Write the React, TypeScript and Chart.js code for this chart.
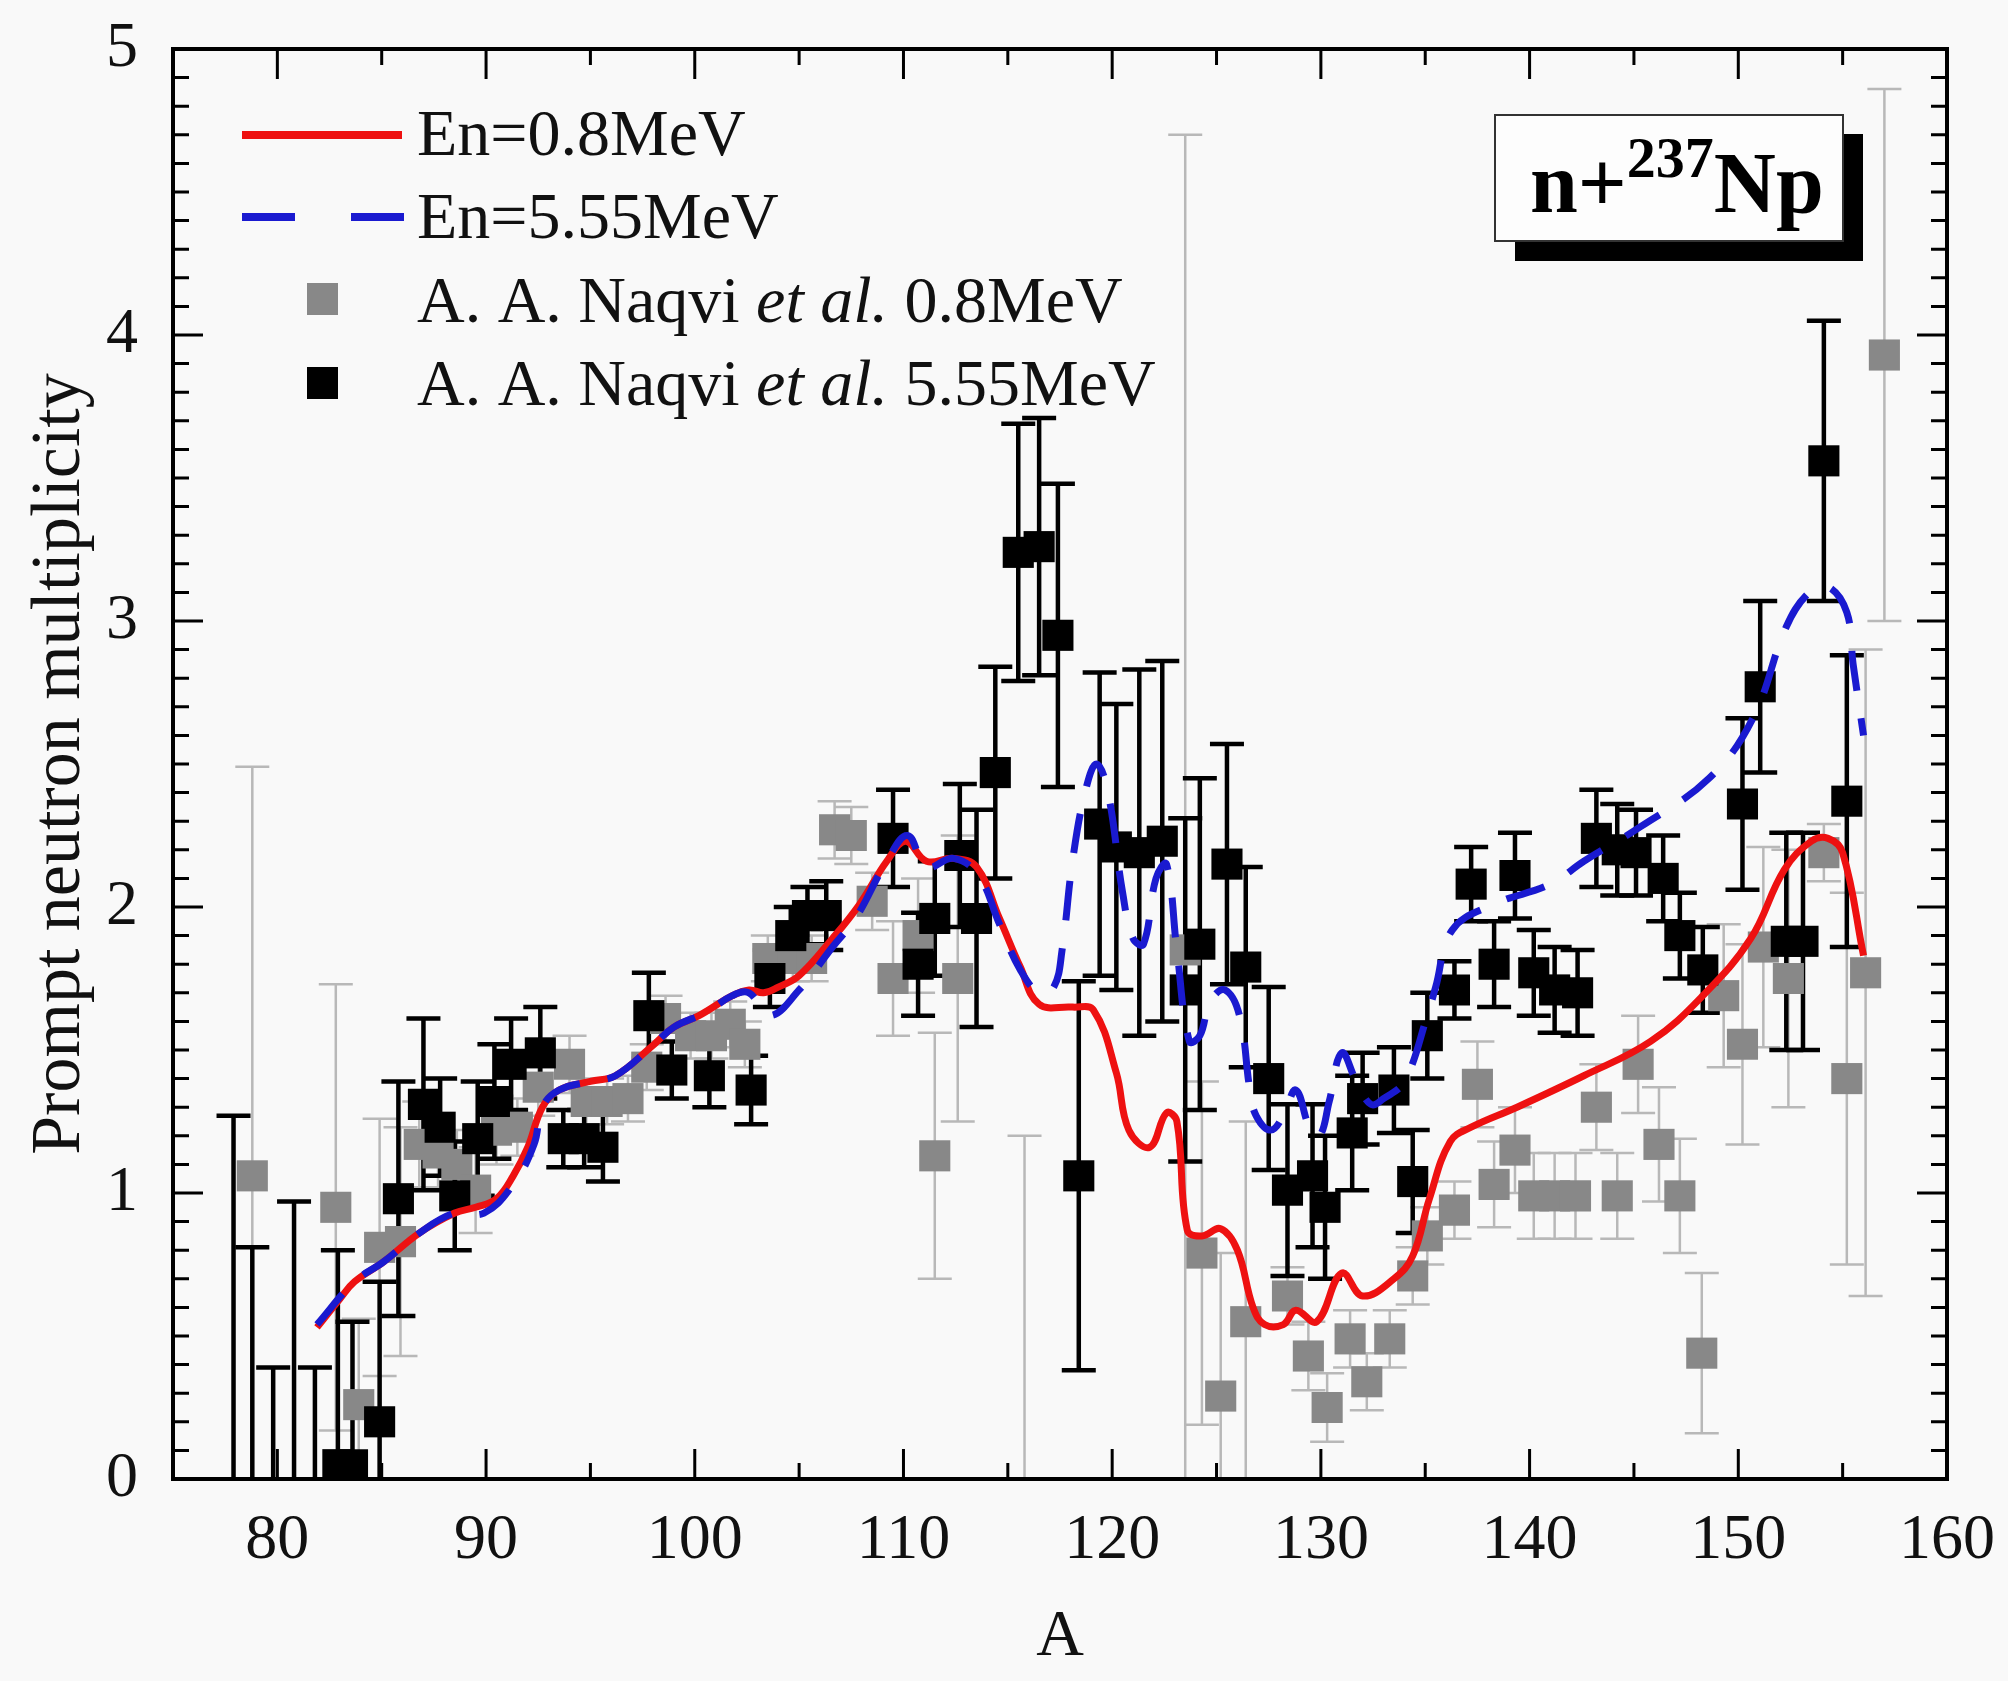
import React, { useEffect, useRef } from 'react';
import { Chart, registerables } from 'chart.js';

Chart.register(...registerables);

const SERIF = "'Liberation Serif', 'Times New Roman', serif";

// axis ticks
const xTickValues = [80, 90, 100, 110, 120, 130, 140, 150, 160];
const yTickValues = [0, 1, 2, 3, 4, 5];

// calculated curve, En = 0.8 MeV
const curve08A = [81.9, 83, 83.7, 85.1, 86.8, 88.5, 89.5, 90.5, 91.3, 92, 92.7, 93.5, 95, 96.2, 97.9, 99, 100.2, 101.8, 102.6, 103.3, 104, 105, 106.6, 107.9, 109.2, 110.1, 111.1, 112.4, 113.5, 114.6, 115.6, 116.5, 118.1, 119.1, 120.2, 120.8, 121.8, 122.6, 123.1, 123.6, 124.3, 125.2, 126, 126.75, 127.3, 128.2, 128.8, 129.8, 131, 132, 133.5, 134.4, 135.2, 136.2, 137.2, 139.4, 142.6, 145.8, 148.3, 150.6, 152.2, 153.5, 154.3, 155, 156];
const curve08V = [0.53, 0.63, 0.69, 0.76, 0.86, 0.93, 0.95, 0.98, 1.06, 1.16, 1.3, 1.36, 1.39, 1.41, 1.51, 1.58, 1.62, 1.69, 1.71, 1.7, 1.72, 1.76, 1.89, 2.01, 2.16, 2.23, 2.16, 2.17, 2.14, 1.96, 1.79, 1.66, 1.65, 1.64, 1.42, 1.22, 1.16, 1.28, 1.25, 0.87, 0.85, 0.875, 0.8, 0.6, 0.54, 0.54, 0.59, 0.55, 0.72, 0.64, 0.7, 0.78, 0.98, 1.18, 1.23, 1.3, 1.41, 1.53, 1.69, 1.89, 2.13, 2.23, 2.24, 2.19, 1.83];

// calculated curve, En = 5.55 MeV
const curve555A = [81.9, 83.7, 85.1, 86.8, 88.5, 89.9, 91.3, 92.3, 92.7, 93.5, 95, 96.2, 97.9, 99, 100.5, 101.8, 102.6, 103.6, 105, 106.6, 107.7, 109.2, 110.2, 111.1, 112.4, 113.6, 114.6, 115.6, 116.5, 117.2, 117.6, 118.1, 118.7, 119.25, 119.8, 120.5, 121, 121.5, 122.1, 122.6, 123.1, 123.7, 124.2, 124.7, 125.4, 126.1, 126.6, 126.9, 127.6, 128.2, 128.8, 129.5, 129.95, 130.4, 131, 131.7, 132.4, 133, 134, 135.1, 135.5, 136.3, 138.3, 141, 142.6, 145.3, 148.6, 150.7, 152.3, 153.4, 154.3, 155.2, 155.5, 156];
const curve555V = [0.54, 0.69, 0.76, 0.86, 0.93, 0.93, 1.03, 1.17, 1.3, 1.36, 1.39, 1.41, 1.51, 1.58, 1.63, 1.69, 1.7, 1.62, 1.71, 1.86, 1.96, 2.16, 2.25, 2.14, 2.17, 2.11, 1.94, 1.78, 1.7, 1.72, 1.85, 2.16, 2.4, 2.5, 2.4, 2.05, 1.89, 1.87, 2.1, 2.15, 1.85, 1.53, 1.55, 1.67, 1.71, 1.62, 1.36, 1.27, 1.22, 1.27, 1.36, 1.22, 1.2, 1.32, 1.49, 1.39, 1.31, 1.33, 1.39, 1.62, 1.72, 1.92, 2.01, 2.08, 2.16, 2.28, 2.45, 2.66, 2.98, 3.1, 3.12, 3.03, 2.85, 2.6];

// A. A. Naqvi et al., 0.8 MeV
const naqvi08A = [78.8, 82.8, 83.9, 84.9, 85.9, 86.8, 87.7, 88.6, 89.5, 90.5, 91.5, 92.5, 94, 94.8, 95.8, 96.8, 97.7, 98.6, 99.8, 100.8, 101.7, 102.4, 103.5, 104.7, 105.6, 106.7, 107.5, 108.5, 109.5, 110.7, 111.5, 112.6, 115.8, 123.5, 124.3, 125.2, 126.4, 128.4, 129.4, 130.3, 131.4, 132.2, 133.3, 134.4, 135.1, 136.4, 137.5, 138.3, 139.3, 140.2, 141.2, 142.2, 143.2, 144.2, 145.2, 146.2, 147.2, 148.25, 149.3, 150.2, 151.2, 152.4, 154.1, 155.2, 156.1, 157];
const naqvi08V = [1.06, 0.95, 0.26, 0.81, 0.83, 1.17, 1.14, 1.1, 1.01, 1.22, 1.23, 1.37, 1.45, 1.32, 1.32, 1.33, 1.44, 1.61, 1.55, 1.55, 1.59, 1.52, 1.82, 1.82, 1.82, 2.27, 2.25, 2.02, 1.75, 1.9, 1.13, 1.75, -0.1, 1.85, 0.79, 0.29, 0.55, 0.64, 0.43, 0.25, 0.49, 0.34, 0.49, 0.71, 0.85, 0.94, 1.38, 1.03, 1.15, 0.99, 0.99, 0.99, 1.3, 0.99, 1.45, 1.17, 0.99, 0.44, 1.69, 1.52, 1.86, 1.75, 2.19, 1.4, 1.77, 3.93];
const naqvi08Err = [1.43, 0.78, 0.3, 0.45, 0.4, 0.15, 0.12, 0.12, 0.15, 0.12, 0.1, 0.1, 0.1, 0.08, 0.08, 0.08, 0.08, 0.08, 0.08, 0.08, 0.08, 0.08, 0.08, 0.08, 0.08, 0.1, 0.1, 0.1, 0.2, 0.2, 0.43, 0.5, 1.3, 2.85, 0.6, 0.5, 0.7, 0.1, 0.12, 0.12, 0.1, 0.1, 0.1, 0.1, 0.1, 0.1, 0.15, 0.15, 0.15, 0.15, 0.15, 0.15, 0.15, 0.15, 0.17, 0.2, 0.2, 0.28, 0.25, 0.35, 0.35, 0.45, 0.1, 0.65, 1.13, 0.93];

// A. A. Naqvi et al., 5.55 MeV
const naqvi555A = [77.9, 78.8, 79.8, 80.8, 81.8, 82.9, 83.6, 84.9, 85.8, 87, 87.8, 88.5, 89.6, 90.4, 91.2, 92.6, 93.7, 94.7, 95.6, 97.8, 98.9, 100.7, 102.7, 103.6, 104.6, 105.4, 106.3, 109.5, 110.7, 111.5, 112.7, 113.5, 114.4, 115.5, 116.5, 117.4, 118.4, 119.4, 120.2, 121.3, 122.4, 123.5, 124.2, 125.5, 126.4, 127.5, 128.4, 129.6, 130.2, 131.5, 132, 133.5, 134.4, 135.1, 136.4, 137.2, 138.3, 139.3, 140.2, 141.2, 142.3, 143.2, 144.2, 145.1, 146.4, 147.2, 148.3, 150.2, 151.05, 152.3, 153.1, 154.1, 155.2];
const naqvi555V = [-0.2, -0.2, -0.2, -0.2, -0.2, 0.05, 0.05, 0.2, 0.98, 1.31, 1.23, 0.99, 1.19, 1.32, 1.45, 1.49, 1.19, 1.19, 1.16, 1.62, 1.43, 1.41, 1.36, 1.75, 1.9, 1.97, 1.97, 2.24, 1.8, 1.96, 2.18, 1.96, 2.47, 3.24, 3.26, 2.95, 1.06, 2.29, 2.21, 2.19, 2.23, 1.71, 1.87, 2.15, 1.79, 1.4, 1.01, 1.06, 0.95, 1.21, 1.33, 1.36, 1.04, 1.55, 1.71, 2.08, 1.8, 2.11, 1.77, 1.71, 1.7, 2.24, 2.2, 2.19, 2.1, 1.9, 1.78, 2.36, 2.77, 1.88, 1.88, 3.56, 2.37];
const naqvi555Err = [1.47, 1.01, 0.59, 1.17, 0.59, 0.75, 0.5, 0.49, 0.41, 0.3, 0.17, 0.19, 0.2, 0.2, 0.16, 0.16, 0.1, 0.1, 0.12, 0.15, 0.1, 0.11, 0.12, 0.1, 0.1, 0.1, 0.12, 0.17, 0.18, 0.2, 0.25, 0.38, 0.37, 0.45, 0.45, 0.53, 0.68, 0.53, 0.5, 0.64, 0.63, 0.6, 0.58, 0.42, 0.35, 0.32, 0.3, 0.25, 0.25, 0.2, 0.16, 0.15, 0.18, 0.15, 0.1, 0.13, 0.15, 0.15, 0.15, 0.15, 0.15, 0.17, 0.16, 0.15, 0.15, 0.15, 0.15, 0.3, 0.3, 0.38, 0.38, 0.49, 0.51];

const curveLabels = ['En=0.8MeV', 'En=5.55MeV'];
const dataAuthor = 'A. A. Naqvi';
const dataEtAl = 'et al.';
const dataEnergies = ['0.8MeV', '5.55MeV'];

const RED = '#ee1111';
const BLUE = '#1a1ad0';
const GRAY = '#888888';

const toPoints = (xs: number[], ys: number[]) => xs.map((a, i) => ({ x: a, y: ys[i] }));

const backgroundPlugin = {
    id: 'bg',
    beforeDraw(chart: any) {
        const { ctx, width, height } = chart;
        ctx.save();
        ctx.fillStyle = '#f9f9f9';
        ctx.fillRect(0, 0, width, height);
        ctx.restore();
    }
};

// vertical error bars, drawn under the markers
const errorBarPlugin = {
    id: 'errorBars',
    beforeDatasetsDraw(chart: any) {
        const { ctx, chartArea, scales } = chart;
        const x = scales.x;
        const y = scales.y;
        ctx.save();
        ctx.beginPath();
        ctx.rect(chartArea.left, chartArea.top, chartArea.right - chartArea.left, chartArea.bottom - chartArea.top);
        ctx.clip();
        const drawSet = (xs: number[], vs: number[], es: number[], color: string, lw: number, cap: number) => {
            ctx.strokeStyle = color;
            ctx.lineWidth = lw;
            xs.forEach((a, i) => {
                const px = x.getPixelForValue(a);
                const top = y.getPixelForValue(vs[i] + es[i]);
                const bot = y.getPixelForValue(vs[i] - es[i]);
                ctx.beginPath();
                ctx.moveTo(px, top);
                ctx.lineTo(px, bot);
                ctx.moveTo(px - cap, top);
                ctx.lineTo(px + cap, top);
                ctx.moveTo(px - cap, bot);
                ctx.lineTo(px + cap, bot);
                ctx.stroke();
            });
        };
        drawSet(naqvi08A, naqvi08V, naqvi08Err, '#b8b8b8', 2.5, 17);
        drawSet(naqvi555A, naqvi555V, naqvi555Err, '#000000', 4.5, 17);
        ctx.restore();
    }
};

// frame with inward ticks on all four sides
const framePlugin = {
    id: 'frame',
    afterDatasetsDraw(chart: any) {
        const { ctx, chartArea, scales } = chart;
        const { left, right, top, bottom } = chartArea;
        const x = scales.x;
        const y = scales.y;
        ctx.save();
        ctx.strokeStyle = '#000';
        ctx.lineWidth = 3;
        for (let a = 80; a <= 160; a += 5) {
            const px = x.getPixelForValue(a);
            const len = a % 10 === 0 ? 30 : 16;
            ctx.beginPath();
            ctx.moveTo(px, bottom);
            ctx.lineTo(px, bottom - len);
            ctx.moveTo(px, top);
            ctx.lineTo(px, top + len);
            ctx.stroke();
        }
        for (let k = 0; k <= 50; k++) {
            const py = y.getPixelForValue(k / 10);
            const len = k % 10 === 0 ? 30 : 16;
            ctx.beginPath();
            ctx.moveTo(left, py);
            ctx.lineTo(left + len, py);
            ctx.moveTo(right, py);
            ctx.lineTo(right - len, py);
            ctx.stroke();
        }
        ctx.lineWidth = 4;
        ctx.strokeRect(left, top, right - left, bottom - top);
        ctx.restore();
    }
};

// legend and the reaction label
const annotationPlugin = {
    id: 'annotations',
    afterDraw(chart: any) {
        const { ctx } = chart;
        ctx.save();
        ctx.textBaseline = 'alphabetic';
        ctx.textAlign = 'left';
        ctx.fillStyle = '#111';
        const normal = `66px ${SERIF}`;
        const italic = `italic 66px ${SERIF}`;

        // curve samples
        ctx.lineCap = 'butt';
        ctx.lineWidth = 8;
        ctx.strokeStyle = RED;
        ctx.beginPath();
        ctx.moveTo(242, 135);
        ctx.lineTo(402, 135);
        ctx.stroke();
        ctx.strokeStyle = BLUE;
        ctx.setLineDash([53, 56]);
        ctx.beginPath();
        ctx.moveTo(242, 217);
        ctx.lineTo(404, 217);
        ctx.stroke();
        ctx.setLineDash([]);

        ctx.font = normal;
        ctx.fillText(curveLabels[0], 417, 155);
        ctx.fillText(curveLabels[1], 417, 238);

        // data samples
        const rows = [
            { color: GRAY, cy: 299, base: 322, energy: dataEnergies[0] },
            { color: '#000', cy: 383, base: 405, energy: dataEnergies[1] }
        ];
        rows.forEach((r) => {
            ctx.fillStyle = r.color;
            ctx.fillRect(307, r.cy - 16, 31, 32);
            ctx.fillStyle = '#111';
            let cx = 417;
            ctx.font = normal;
            ctx.fillText(dataAuthor + ' ', cx, r.base);
            cx += ctx.measureText(dataAuthor + ' ').width;
            ctx.font = italic;
            ctx.fillText(dataEtAl, cx, r.base);
            cx += ctx.measureText(dataEtAl).width;
            ctx.font = normal;
            ctx.fillText(' ' + r.energy, cx, r.base);
        });

        // boxed reaction label with shadow
        ctx.fillStyle = '#000';
        ctx.fillRect(1515, 134, 348, 127);
        ctx.fillStyle = '#fdfdfd';
        ctx.fillRect(1495, 115, 348, 126);
        ctx.strokeStyle = '#333';
        ctx.lineWidth = 2;
        ctx.strokeRect(1495, 115, 348, 126);
        ctx.fillStyle = '#000';
        let lx = 1530;
        ctx.font = `bold 86px ${SERIF}`;
        ctx.fillText('n+', lx, 212);
        lx += ctx.measureText('n+').width;
        ctx.font = `bold 58px ${SERIF}`;
        ctx.fillText('237', lx, 177);
        lx += ctx.measureText('237').width;
        ctx.font = `bold 86px ${SERIF}`;
        ctx.fillText('Np', lx, 212);
        ctx.restore();
    }
};

const App: React.FC = () => {
    const canvasRef = useRef<HTMLCanvasElement>(null);
    const chartRef = useRef<Chart | null>(null);

    useEffect(() => {
        document.body.style.margin = '0';
        document.body.style.background = '#f9f9f9';
        if (!canvasRef.current) return;
        if (chartRef.current) chartRef.current.destroy();

        chartRef.current = new Chart(canvasRef.current, {
            type: 'scatter',
            data: {
                datasets: [
                    {
                        type: 'line',
                        label: curveLabels[1],
                        data: toPoints(curve555A, curve555V),
                        borderColor: BLUE,
                        borderWidth: 7,
                        borderDash: [40, 28],
                        pointRadius: 0,
                        tension: 0.4,
                        fill: false,
                        order: 0
                    },
                    {
                        type: 'line',
                        label: curveLabels[0],
                        data: toPoints(curve08A, curve08V),
                        borderColor: RED,
                        borderWidth: 7,
                        pointRadius: 0,
                        tension: 0.4,
                        fill: false,
                        order: 1
                    },
                    {
                        label: 'Naqvi 5.55MeV',
                        data: toPoints(naqvi555A, naqvi555V),
                        pointStyle: 'rect',
                        pointRadius: 22,
                        pointBorderWidth: 0,
                        backgroundColor: '#000',
                        borderColor: '#000',
                        showLine: false,
                        order: 2
                    },
                    {
                        label: 'Naqvi 0.8MeV',
                        data: toPoints(naqvi08A, naqvi08V),
                        pointStyle: 'rect',
                        pointRadius: 22,
                        pointBorderWidth: 0,
                        backgroundColor: GRAY,
                        borderColor: GRAY,
                        showLine: false,
                        order: 3
                    }
                ]
            },
            options: {
                animation: false,
                responsive: false,
                devicePixelRatio: 1,
                layout: { padding: { top: 49, right: 61, left: 0, bottom: 0 } },
                plugins: {
                    legend: { display: false },
                    tooltip: { enabled: false }
                },
                scales: {
                    x: {
                        type: 'linear',
                        min: 75,
                        max: 160,
                        grid: { display: false, drawTicks: false },
                        border: { display: false },
                        afterBuildTicks: (s: any) => {
                            s.ticks = xTickValues.map((v) => ({ value: v }));
                        },
                        afterFit: (s: any) => {
                            s.height = 202;
                            s.paddingLeft = 0;
                            s.paddingRight = 0;
                        },
                        ticks: {
                            color: '#111',
                            padding: 24,
                            maxRotation: 0,
                            font: { family: SERIF, size: 64 }
                        },
                        title: {
                            display: true,
                            text: 'A',
                            color: '#111',
                            padding: { top: 0, bottom: 4 },
                            font: { family: SERIF, size: 66 }
                        }
                    },
                    y: {
                        type: 'linear',
                        min: 0,
                        max: 5,
                        grid: { display: false, drawTicks: false },
                        border: { display: false },
                        afterBuildTicks: (s: any) => {
                            s.ticks = yTickValues.map((v) => ({ value: v }));
                        },
                        afterFit: (s: any) => {
                            s.width = 173;
                            s.paddingTop = 0;
                            s.paddingBottom = 0;
                        },
                        ticks: {
                            color: '#111',
                            padding: 35,
                            font: { family: SERIF, size: 64 }
                        },
                        title: {
                            display: true,
                            text: 'Prompt neutron multiplicity',
                            color: '#111',
                            padding: { top: 19, bottom: 0 },
                            font: { family: SERIF, size: 70 }
                        }
                    }
                }
            },
            plugins: [backgroundPlugin, errorBarPlugin, framePlugin, annotationPlugin]
        } as any);

        return () => {
            if (chartRef.current) {
                chartRef.current.destroy();
                chartRef.current = null;
            }
        };
    }, []);

    return (
        <div style={{ width: 2008, height: 1681 }}>
            <canvas ref={canvasRef} width={2008} height={1681} />
        </div>
    );
};

export default App;
